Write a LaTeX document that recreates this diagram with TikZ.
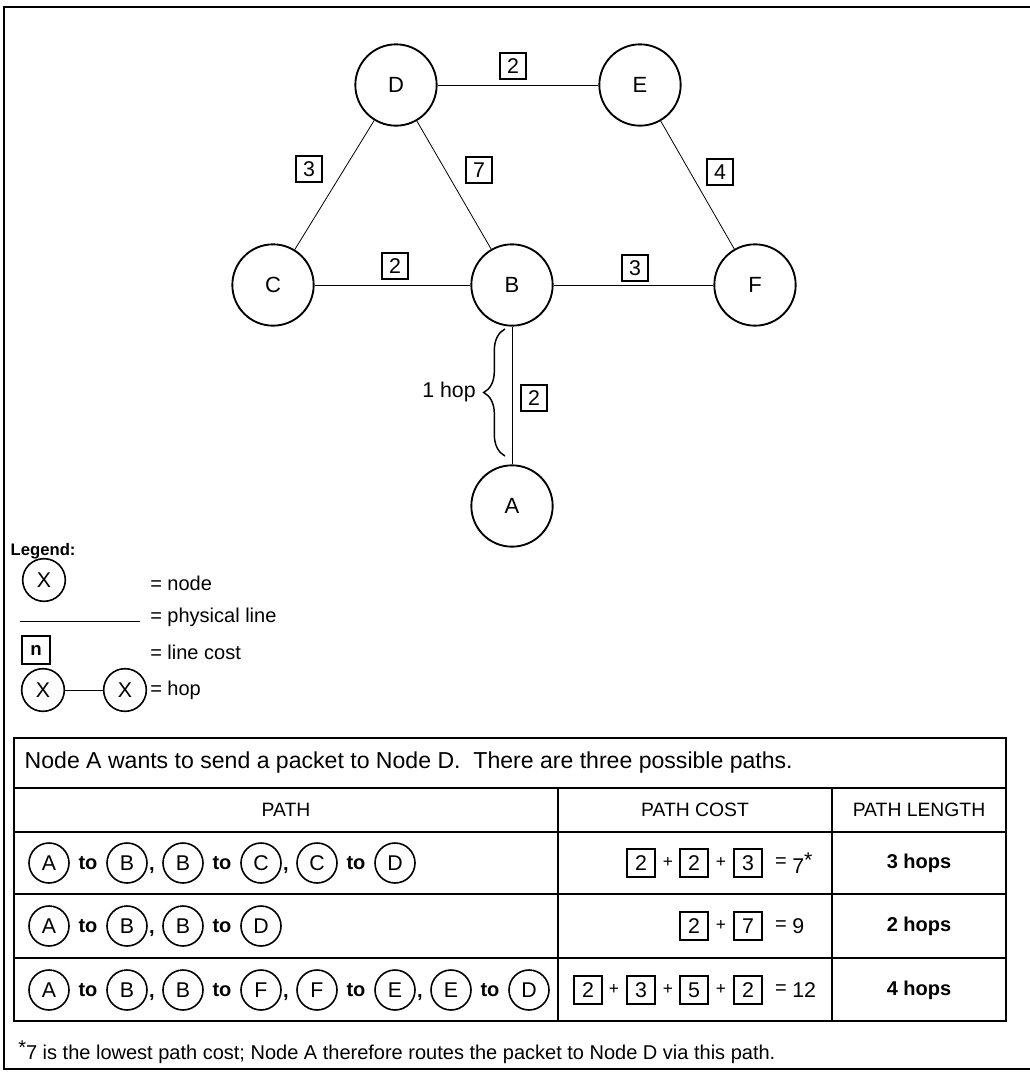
\documentclass[tikz,border=0pt]{standalone}
\usepackage{fontspec}
\setmainfont{Liberation Sans}
\usetikzlibrary{positioning, calc, decorations.pathreplacing}

\newcommand{\setsz}[1]{\fontsize{#1}{#1}\selectfont}

\begin{document}
\begin{tikzpicture}[
    x=0.75pt, y=-0.75pt,
    station/.style={
        circle,
        draw,
        line width=1.4pt,
        minimum size=61pt,
        inner sep=0pt,
        font=\setsz{16.5},
    },
    cost/.style={
        draw,
        line width=1.4pt,
        minimum size=20pt,
        inner sep=0pt,
        font=\setsz{16},
    },
    pathstation/.style={
        station,
        line width=1.2pt,
        minimum size=30pt,
        font=\setsz{16},
    },
    link/.style={
        line width=0.6pt,
    },
    rule/.style={
        line width=1.3pt,
    },
    hopword/.style={
        font=\bfseries\setsz{15},
        inner sep=0pt,
    },
    cell/.style={
        font=\setsz{15},
        inner sep=0pt,
    },
    heading/.style={
        cell,
        font=\setsz{14.5},
    },
    legendtext/.style={
        cell,
        anchor=west,
    },
]

    \useasboundingbox (0,0) rectangle (1030,1072);
    \draw[rule] (1030,7) -- (4,7) -- (4,1069) -- (1030,1069);

    % network
    \node[station] (D) at (396,85) {D};
    \node[station] (E) at (640,85) {E};
    \node[station] (C) at (273,285) {C};
    \node[station] (B) at (512,285) {B};
    \node[station] (F) at (755,285) {F};
    \node[station] (A) at (512,506) {A};

    \draw[link] (D) -- (E);
    \draw[link] (D) -- (C);
    \draw[link] (D) -- (B);
    \draw[link] (E) -- (F);
    \draw[link] (C) -- (B);
    \draw[link] (B) -- (F);
    \draw[link] (B) -- (A);

    \node[cost] (costDE) at (513,66) {2};
    \node[cost] (costDC) at (309,169) {3};
    \node[cost] (costDB) at (479,170) {7};
    \node[cost] (costEF) at (720,172) {4};
    \node[cost] (costCB) at (395,266) {2};
    \node[cost] (costBF) at (635,268) {3};
    \node[cost] (costBA) at (534,398) {2};

    \coordinate (hoptop) at (505,329);
    \coordinate (hopbot) at (505,456);
    \draw[line width=1.1pt, decorate, decoration={brace, amplitude=16pt}] (hopbot) -- (hoptop);
    \node[cell, font=\setsz{16}, anchor=east] (hoplabel) at (476,392) {1 hop};

    % legend
    \node[font=\bfseries\setsz{12.5}, anchor=west] (legend) at (6,551) {Legend:};
    \node[pathstation, minimum size=32pt] (lgnode) at (44,580) {X};
    \node[legendtext] (lgnodetxt) at (150,583) {= node};
    \coordinate (lgleft) at (20,621);
    \coordinate (lgright) at (140,621);
    \draw[link] (lgleft) -- (lgright);
    \node[legendtext] (lglinetxt) at (150,617) {= physical line};
    \node[cost, minimum size=21pt, font=\bfseries\setsz{14}] (lgcost) at (36,650) {n};
    \node[legendtext] (lgcosttxt) at (150,652) {= line cost};
    \node[pathstation, minimum size=32pt] (hopx1) at (43,690) {X};
    \node[pathstation, minimum size=32pt] (hopx2) at (125,690) {X};
    \draw[link] (hopx1) -- (hopx2);
    \node[legendtext] (lghoptxt) at (150,690) {= hop};

    % table
    \draw[rule] (14,738) rectangle (1006,1021);
    \foreach \y in {788,832,894,958}
        \draw[rule] (14,\y) -- (1006,\y);
    \draw[rule] (558,788) -- (558,1021);
    \draw[rule] (832,788) -- (832,1021);

    \node[anchor=west, font=\setsz{17.3}] (intro) at (20,763)
        {Node A wants to send a packet to Node D.\ \ There are three possible paths.};
    \node[heading] (headpath) at (286,810) {PATH};
    \node[heading] (headcost) at (695,810) {PATH COST};
    \node[heading] (headlen) at (919,810) {PATH LENGTH};

    % row 1
    \foreach \src/\dst [count=\j from 0] in {A/B, B/C, C/D} {
        \node[pathstation] (rowa\j a) at (49+134*\j,863) {\src};
        \node[hopword] (rowa\j t) at (88+134*\j,863) {to};
        \node[pathstation] (rowa\j b) at (127+134*\j,863) {\dst};
    }
    \foreach \j in {0,1}
        \node[hopword, anchor=base] (rowa\j c) at (152+134*\j,870) {,};
    \foreach \v/\x [count=\k] in {2/641, 2/694, 3/748}
        \node[cost, minimum size=21pt] (suma\k) at (\x,863) {\v};
    \foreach \x [count=\k] in {668,721}
        \node[cell, font=\setsz{13}] (plusa\k) at (\x,862) {+};
    \node[cell] (eqa) at (781,863) {=};
    \node[cell, font=\setsz{16}, anchor=west] (tota) at (792,863) {7\raisebox{5pt}{*}};
    \node[hopword] (lena) at (919,863) {3 hops};

    % row 2
    \foreach \src/\dst [count=\j from 0] in {A/B, B/D} {
        \node[pathstation] (rowb\j a) at (49+134*\j,926) {\src};
        \node[hopword] (rowb\j t) at (88+134*\j,926) {to};
        \node[pathstation] (rowb\j b) at (127+134*\j,926) {\dst};
    }
    \node[hopword, anchor=base] (rowb0c) at (152,933) {,};
    \foreach \v/\x [count=\k] in {2/694, 7/748}
        \node[cost, minimum size=21pt] (sumb\k) at (\x,926) {\v};
    \node[cell, font=\setsz{13}] (plusb1) at (721,925) {+};
    \node[cell] (eqb) at (781,926) {=};
    \node[cell, font=\setsz{16}, anchor=west] (totb) at (792,926) {9};
    \node[hopword] (lenb) at (919,926) {2 hops};

    % row 3
    \foreach \src/\dst [count=\j from 0] in {A/B, B/F, F/E, E/D} {
        \node[pathstation] (rowc\j a) at (49+134*\j,990) {\src};
        \node[hopword] (rowc\j t) at (88+134*\j,990) {to};
        \node[pathstation] (rowc\j b) at (127+134*\j,990) {\dst};
    }
    \foreach \j in {0,1,2}
        \node[hopword, anchor=base] (rowc\j c) at (152+134*\j,997) {,};
    \foreach \v/\x [count=\k] in {2/588, 3/641, 5/694, 2/748}
        \node[cost, minimum size=21pt] (sumc\k) at (\x,990) {\v};
    \foreach \x [count=\k] in {614,668,721}
        \node[cell, font=\setsz{13}] (plusc\k) at (\x,989) {+};
    \node[cell] (eqc) at (781,990) {=};
    \node[cell, font=\setsz{16}, anchor=west] (totc) at (792,990) {12};
    \node[hopword] (lenc) at (919,990) {4 hops};

    \node[cell, anchor=west] (footnote) at (18,1052)
        {\raisebox{4pt}{*}7 is the lowest path cost; Node A therefore routes the packet to Node D via this path.};

\end{tikzpicture}
\end{document}
